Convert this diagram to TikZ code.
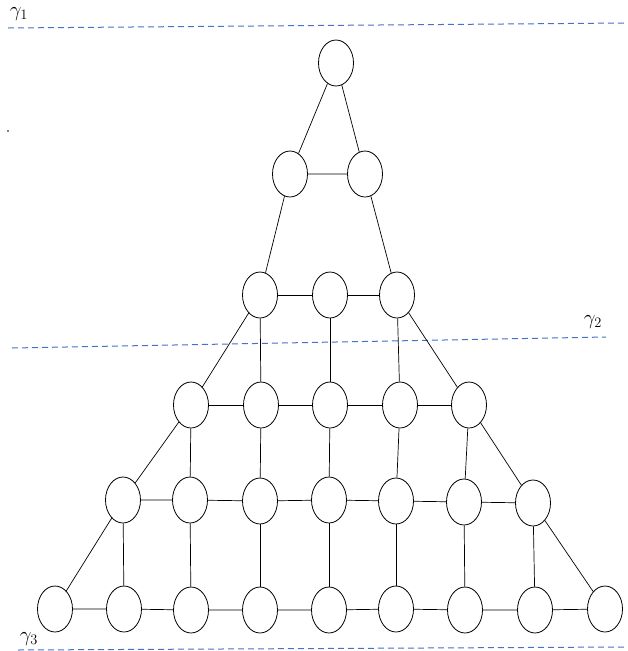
\documentclass[tikz,border=0pt]{standalone}
\usepackage{tikz}
\usetikzlibrary{shapes.geometric}
\definecolor{cutblue}{HTML}{4472C4}
\tikzset{
  vert/.style={draw=black, ellipse, minimum width=35pt, minimum height=46pt, inner sep=0pt, line width=0.8pt},
  link/.style={draw=black, line width=0.7pt},
  cut/.style={draw=cutblue, dash pattern=on 6pt off 4pt, line width=1pt},
  cutlabel/.style={font=\fontsize{20}{24}\selectfont, inner sep=0pt}
}

\begin{document}
\begin{tikzpicture}[x=1pt, y=-1pt]
  \useasboundingbox (0,0) rectangle (627,651);

  % cuts
  \coordinate (g1a) at (8,28);   \coordinate (g1b) at (627,23);
  \coordinate (g2a) at (12,348); \coordinate (g2b) at (606,337);
  \coordinate (g3a) at (18,650); \coordinate (g3b) at (627,647);
  \draw[cut] (g1a) -- (g1b);
  \draw[cut] (g2a) -- (g2b);
  \draw[cut] (g3a) -- (g3b);
  \node[cutlabel] (g1) at (19,14) {$\gamma_1$};
  \node[cutlabel] (g2) at (593,322) {$\gamma_2$};
  \node[cutlabel] (g3) at (29,639) {$\gamma_3$};
  \fill (8,131) circle (0.8);

  % vertices
  \node[vert] (a1) at (336,63) {};

  \node[vert] (b1) at (290,174) {};
  \node[vert] (b2) at (365,174) {};

  \node[vert] (c1) at (260,295) {};
  \node[vert] (c2) at (330,295) {};
  \node[vert] (c3) at (397,295) {};

  \node[vert] (d1) at (191,405) {};
  \node[vert] (d2) at (261,405) {};
  \node[vert] (d3) at (330,405) {};
  \node[vert] (d4) at (400,405) {};
  \node[vert] (d5) at (469,405) {};

  \node[vert] (e1) at (123,500) {};
  \node[vert] (e2) at (190,500) {};
  \node[vert] (e3) at (260,501) {};
  \node[vert] (e4) at (329,500) {};
  \node[vert] (e5) at (396,501) {};
  \node[vert] (e6) at (464,502) {};
  \node[vert] (e7) at (533,503) {};

  \node[vert] (f1) at (55,609) {};
  \node[vert] (f2) at (124,609) {};
  \node[vert] (f3) at (191,610) {};
  \node[vert] (f4) at (260,610) {};
  \node[vert] (f5) at (329,610) {};
  \node[vert] (f6) at (396,609) {};
  \node[vert] (f7) at (465,610) {};
  \node[vert] (f8) at (535,610) {};
  \node[vert] (f9) at (605,609) {};

  % edges
  \draw[link] (b1) -- (a1) -- (b2) -- (b1);
  \draw[link] (b1) -- (c1);
  \draw[link] (b2) -- (c3);
  \draw[link] (c1) -- (c2) -- (c3);

  \draw[link] (c1) -- (d1);
  \draw[link] (c1) -- (d2);
  \draw[link] (c2) -- (d3);
  \draw[link] (c3) -- (d4);
  \draw[link] (c3) -- (d5);
  \draw[link] (d1) -- (d2) -- (d3) -- (d4) -- (d5);

  \draw[link] (d1) -- (e1);
  \draw[link] (d1) -- (e2);
  \draw[link] (d2) -- (e3);
  \draw[link] (d3) -- (e4);
  \draw[link] (d4) -- (e5);
  \draw[link] (d5) -- (e6);
  \draw[link] (d5) -- (e7);
  \draw[link] (e1) -- (e2) -- (e3) -- (e4) -- (e5) -- (e6) -- (e7);

  \draw[link] (e1) -- (f1);
  \draw[link] (e1) -- (f2);
  \draw[link] (e2) -- (f3);
  \draw[link] (e3) -- (f4);
  \draw[link] (e4) -- (f5);
  \draw[link] (e5) -- (f6);
  \draw[link] (e6) -- (f7);
  \draw[link] (e7) -- (f8);
  \draw[link] (e7) -- (f9);
  \draw[link] (f1) -- (f2) -- (f3) -- (f4) -- (f5) -- (f6) -- (f7) -- (f8) -- (f9);
\end{tikzpicture}
\end{document}
